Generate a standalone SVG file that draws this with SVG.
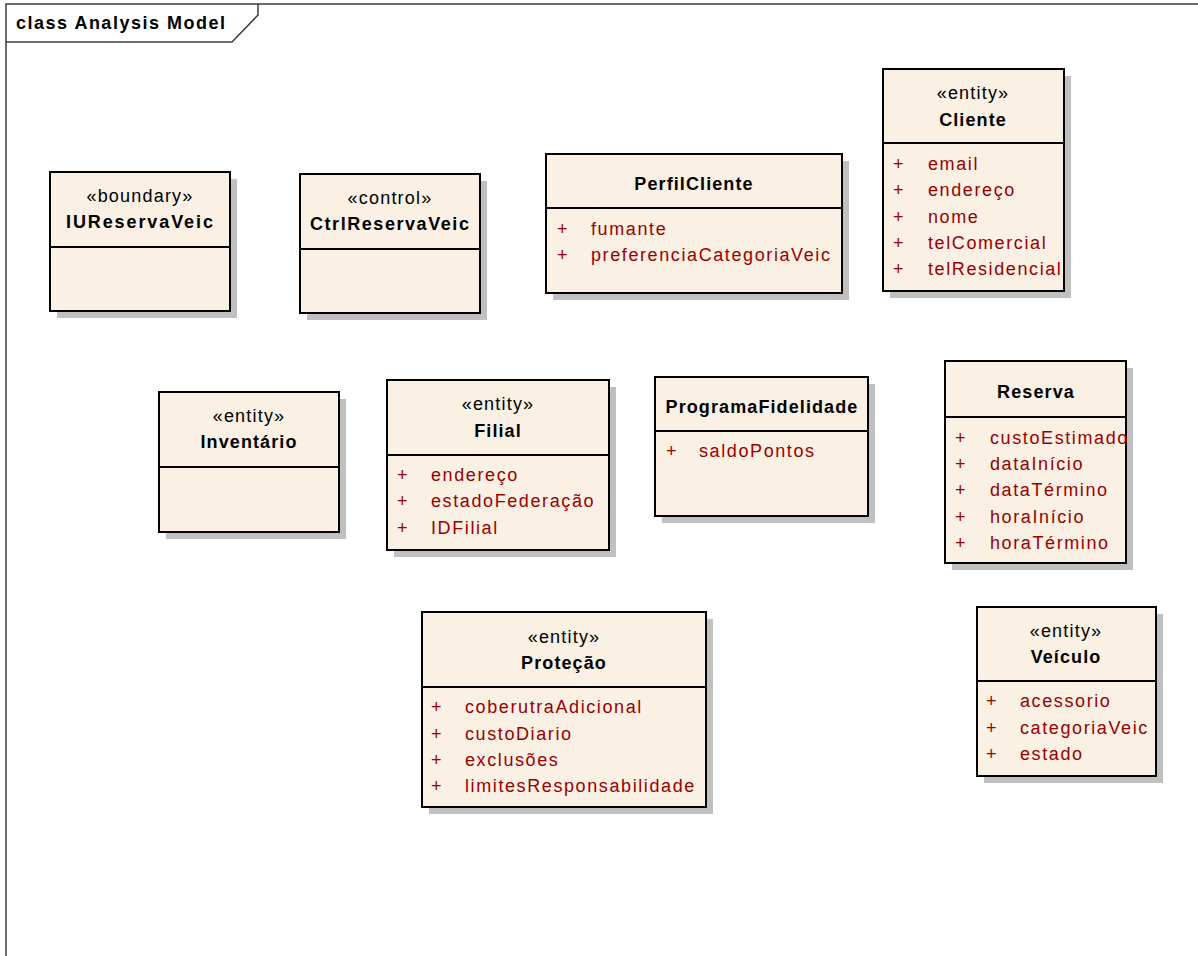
<svg xmlns="http://www.w3.org/2000/svg" width="1198" height="956" viewBox="0 0 1198 956">
  <style>
    .frame { fill: #ffffff; stroke: #3c3c3c; stroke-width: 1.5; }
    .tab { fill: none; stroke: #3c3c3c; stroke-width: 1.5; }
    .shadow { fill: #c0c0c0; stroke: none; }
    .box { fill: #faf0e3; stroke: #000000; stroke-width: 2; }
    .div { stroke: #000000; stroke-width: 2; }
    text { font-family: "Liberation Sans", Arial, sans-serif; font-size: 18px; }
    .ster { fill: #000000; text-anchor: middle; letter-spacing: 1.2px; }
    .name { fill: #000000; font-weight: bold; text-anchor: middle; letter-spacing: 1.1px; }
    .vis { fill: #990000; }
    .attr { fill: #990000; letter-spacing: 1.6px; }
    .title { fill: #000000; font-weight: bold; letter-spacing: 1.5px; }
  </style>

  <!-- diagram frame with its name tab -->
  <g id="frame">
    <rect class="frame" x="6" y="4" width="1200" height="970"/>
    <path class="tab" d="M6,42 H232 L258,15 V4"/>
    <text class="title" x="16" y="29">class Analysis Model</text>
  </g>

  <!-- boundary class -->
  <g id="IUReservaVeic">
    <rect class="shadow" x="57" y="179" width="180" height="139"/>
    <rect class="box" x="50" y="172" width="180" height="139"/>
    <line class="div" x1="50" y1="247" x2="230" y2="247"/>
    <text class="ster" x="140" y="202">«boundary»</text>
    <text class="name" x="140" y="228" textLength="148" lengthAdjust="spacing">IUReservaVeic</text>
  </g>

  <!-- control class -->
  <g id="CtrlReservaVeic">
    <rect class="shadow" x="307" y="181" width="180" height="139"/>
    <rect class="box" x="300" y="174" width="180" height="139"/>
    <line class="div" x1="300" y1="249" x2="480" y2="249"/>
    <text class="ster" x="390" y="204">«control»</text>
    <text class="name" x="390" y="230" textLength="160" lengthAdjust="spacing">CtrlReservaVeic</text>
  </g>

  <g id="PerfilCliente">
    <rect class="shadow" x="553" y="161" width="296" height="139"/>
    <rect class="box" x="546" y="154" width="296" height="139"/>
    <line class="div" x1="546" y1="208" x2="842" y2="208"/>
    <text class="name" x="694" y="190">PerfilCliente</text>
    <text class="vis" x="557" y="235">+</text>
    <text class="attr" x="591" y="235">fumante</text>
    <text class="vis" x="557" y="261">+</text>
    <text class="attr" x="591" y="261">preferenciaCategoriaVeic</text>
  </g>

  <g id="Cliente">
    <rect class="shadow" x="890" y="76" width="181" height="222"/>
    <rect class="box" x="883" y="69" width="181" height="222"/>
    <line class="div" x1="883" y1="143" x2="1064" y2="143"/>
    <text class="ster" x="973" y="99">«entity»</text>
    <text class="name" x="973" y="126">Cliente</text>
    <text class="vis" x="893" y="170">+</text>
    <text class="attr" x="928" y="170">email</text>
    <text class="vis" x="893" y="196">+</text>
    <text class="attr" x="928" y="196">endereço</text>
    <text class="vis" x="893" y="223">+</text>
    <text class="attr" x="928" y="223">nome</text>
    <text class="vis" x="893" y="249">+</text>
    <text class="attr" x="928" y="249">telComercial</text>
    <text class="vis" x="893" y="275">+</text>
    <text class="attr" x="928" y="275">telResidencial</text>
  </g>

  <g id="Inventario">
    <rect class="shadow" x="166" y="399" width="180" height="140"/>
    <rect class="box" x="159" y="392" width="180" height="140"/>
    <line class="div" x1="159" y1="467" x2="339" y2="467"/>
    <text class="ster" x="249" y="422">«entity»</text>
    <text class="name" x="249" y="448">Inventário</text>
  </g>

  <g id="Filial">
    <rect class="shadow" x="394" y="387" width="222" height="170"/>
    <rect class="box" x="387" y="380" width="222" height="170"/>
    <line class="div" x1="387" y1="455" x2="609" y2="455"/>
    <text class="ster" x="498" y="410">«entity»</text>
    <text class="name" x="498" y="437">Filial</text>
    <text class="vis" x="397" y="481">+</text>
    <text class="attr" x="431" y="481">endereço</text>
    <text class="vis" x="397" y="507">+</text>
    <text class="attr" x="431" y="507">estadoFederação</text>
    <text class="vis" x="397" y="534">+</text>
    <text class="attr" x="431" y="534">IDFilial</text>
  </g>

  <g id="ProgramaFidelidade">
    <rect class="shadow" x="662" y="384" width="213" height="139"/>
    <rect class="box" x="655" y="377" width="213" height="139"/>
    <line class="div" x1="655" y1="431" x2="868" y2="431"/>
    <text class="name" x="762" y="413">ProgramaFidelidade</text>
    <text class="vis" x="666" y="457">+</text>
    <text class="attr" x="699" y="457">saldoPontos</text>
  </g>

  <g id="Reserva">
    <rect class="shadow" x="952" y="368" width="181" height="202"/>
    <rect class="box" x="945" y="361" width="181" height="202"/>
    <line class="div" x1="945" y1="417" x2="1126" y2="417"/>
    <text class="name" x="1036" y="398">Reserva</text>
    <text class="vis" x="955" y="444">+</text>
    <text class="attr" x="990" y="444">custoEstimado</text>
    <text class="vis" x="955" y="470">+</text>
    <text class="attr" x="990" y="470">dataInício</text>
    <text class="vis" x="955" y="496">+</text>
    <text class="attr" x="990" y="496">dataTérmino</text>
    <text class="vis" x="955" y="523">+</text>
    <text class="attr" x="990" y="523">horaInício</text>
    <text class="vis" x="955" y="549">+</text>
    <text class="attr" x="990" y="549">horaTérmino</text>
  </g>

  <g id="Protecao">
    <rect class="shadow" x="429" y="619" width="284" height="195"/>
    <rect class="box" x="422" y="612" width="284" height="195"/>
    <line class="div" x1="422" y1="687" x2="706" y2="687"/>
    <text class="ster" x="564" y="643">«entity»</text>
    <text class="name" x="564" y="669">Proteção</text>
    <text class="vis" x="431" y="713">+</text>
    <text class="attr" x="465" y="713">coberutraAdicional</text>
    <text class="vis" x="431" y="740">+</text>
    <text class="attr" x="465" y="740">custoDiario</text>
    <text class="vis" x="431" y="766">+</text>
    <text class="attr" x="465" y="766">exclusões</text>
    <text class="vis" x="431" y="792">+</text>
    <text class="attr" x="465" y="792">limitesResponsabilidade</text>
  </g>

  <g id="Veiculo">
    <rect class="shadow" x="984" y="614" width="179" height="169"/>
    <rect class="box" x="977" y="607" width="179" height="169"/>
    <line class="div" x1="977" y1="681" x2="1156" y2="681"/>
    <text class="ster" x="1066" y="637">«entity»</text>
    <text class="name" x="1066" y="663">Veículo</text>
    <text class="vis" x="986" y="707">+</text>
    <text class="attr" x="1020" y="707">acessorio</text>
    <text class="vis" x="986" y="734">+</text>
    <text class="attr" x="1020" y="734">categoriaVeic</text>
    <text class="vis" x="986" y="760">+</text>
    <text class="attr" x="1020" y="760">estado</text>
  </g>

  <!-- no associations are drawn between these classes -->
  <g id="connectors"/>
</svg>
